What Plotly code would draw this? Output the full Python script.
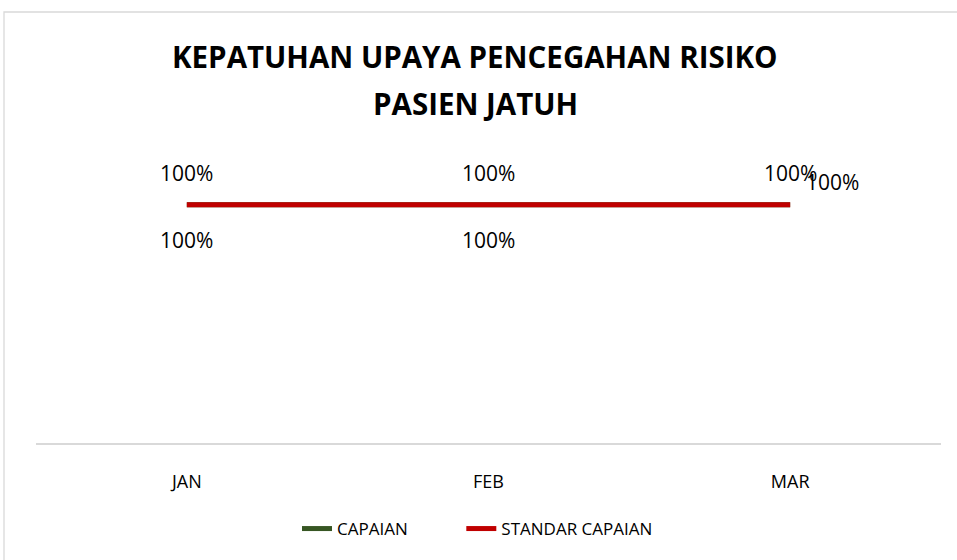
import plotly.graph_objects as go

categories = ["JAN", "FEB", "MAR"]
capaian = [1.0, 1.0, 1.0]
standar_capaian = [1.0, 1.0, 1.0]
series_names = ["CAPAIAN", "STANDAR CAPAIAN"]
title_lines = ["KEPATUHAN UPAYA PENCEGAHAN RISIKO", "PASIEN JATUH"]

FONT = "Open Sans"
GREEN = "#375623"
RED = "#C00000"

# plot area geometry (pixels)
L, R, T, B = 36, 16, 157, 117
PW = 957 - L - R
PH = 560 - T - B


def px(x_pix):
    return (x_pix - L) / PW


def py(y_pix):
    return (560 - B - y_pix) / PH


NBSP = "\u00a0"
fig = go.Figure()
fig.add_trace(go.Scatter(
    x=categories, y=capaian, name=series_names[0] + NBSP * 11, mode="lines",
    line=dict(color=GREEN, width=5),
))
fig.add_trace(go.Scatter(
    x=categories, y=standar_capaian, name=series_names[1], mode="lines",
    line=dict(color=RED, width=5),
))

# data labels
green_shift = [(0, -35), (0, -35), (42, 23)]
red_shift = [(0, 32), (0, 32), (0, 32)]
for cat, v, (dx, dy) in zip(categories, capaian, green_shift):
    fig.add_annotation(x=cat, y=v, text=f"{v:.0%}", showarrow=False,
                       xshift=dx, yshift=dy, font=dict(family=FONT, size=21, color="#000"))
for cat, v, (dx, dy) in zip(categories, standar_capaian, red_shift):
    fig.add_annotation(x=cat, y=v, text=f"{v:.0%}", showarrow=False,
                       xshift=dx, yshift=dy, font=dict(family=FONT, size=21, color="#000"))

# title (two lines)
for txt, ypix in zip(title_lines, [56, 104]):
    fig.add_annotation(xref="paper", yref="paper", x=px(475), y=py(ypix),
                       xanchor="center", yanchor="middle", showarrow=False, text=f"<b>{txt}</b>",
                       font=dict(family=FONT, size=29.5, color="#000"))

# chart border
fig.add_shape(type="rect", xref="paper", yref="paper",
              x0=px(4), x1=1.2, y0=-1, y1=py(12),
              line=dict(color="#D9D9D9", width=1.3), fillcolor="rgba(0,0,0,0)", layer="below")

fig.update_layout(
    width=957, height=560,
    margin=dict(l=L, r=R, t=T, b=B),
    paper_bgcolor="white", plot_bgcolor="white",
    xaxis=dict(range=[-0.5, 2.5], showgrid=False, zeroline=False,
               showline=True, linecolor="#D9D9D9", linewidth=1.5,
               ticks="outside", ticklen=22, tickcolor="rgba(0,0,0,0)",
               tickfont=dict(family=FONT, size=18, color="#000")),
    yaxis=dict(range=[0, 1.2], visible=False),
    legend=dict(orientation="h", x=px(297), xanchor="left", y=py(529), yanchor="middle",
                font=dict(family=FONT, size=17, color="#000"),
                bgcolor="rgba(0,0,0,0)"),
    showlegend=True,
)

fig.write_html("out.html", config={"displayModeBar": False},
               post_script="document.body.style.margin='0';")
